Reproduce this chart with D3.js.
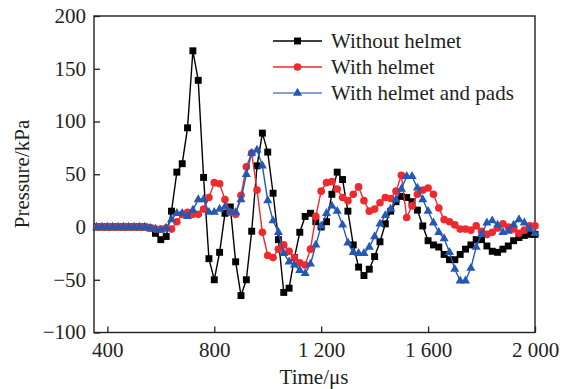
<!DOCTYPE html>
<html>
<head>
<meta charset="utf-8">
<script src="https://cdn.jsdelivr.net/npm/d3@7"></script>
<style>
  html, body { margin: 0; padding: 0; background: #fff; }
  svg text { font-family: "Liberation Serif", "Times New Roman", serif; fill: #231f20; }
</style>
</head>
<body>
<svg id="chart" width="564" height="389"></svg>
<script>
"use strict";

// sample times (µs), one reading every 20 µs
var times = d3.range(360, 2001, 20);

var withoutHelmet = [
    0, 0, 0, 0, 0, 0, 0, 0, 0, 0,
    -1, -6, -12, -9, 15, 52, 60, 94, 167, 139,
    47, -30, -50, -24, 13, 19, -33, -65, -50, -4,
    58, 89, 71, 32, -12, -62, -58, -29, -5, 10,
    13, 5, 0, 5, 31, 52, 45, 15, -17, -38,
    -46, -40, -28, -14, 3, 15, 24, 29, 28, 24,
    16, 1, -13, -17, -19, -26, -31, -31, -26, -21,
    -17, -12, -12, -18, -23, -24, -21, -18, -13, -10,
    -8, -7, -7
];

var withHelmet = [
    0, 0, 0, 0, 0, 0, 0, 0, 0, 0,
    -1, -2, -2, -1, -2, 5, 12, 14, 12, 12,
    17, 28, 42, 41, 26, 14, 12, 30, 57, 70,
    35, -5, -27, -29, -21, -17, -23, -29, -34, -36,
    -21, 10, 34, 42, 43, 36, 28, 25, 31, 38,
    25, 15, 17, 23, 28, 27, 34, 49, 9, 20,
    31, 35, 37, 31, 18, 7, 5, 2, -2, -2,
    -3, 1, -4, -7, -5, -1, 3, 0, -2, -6,
    -3, 1, 1
];

var withHelmetPads = [
    0, 0, 0, 0, 0, 0, 0, 0, 0, 0,
    -1, -2, -3, -1, 7, 13, 13, 10, 16, 26,
    26, 14, 14, 17, 19, 14, 14, 26, 50, 70,
    73, 58, 25, 6, -5, -25, -33, -36, -41, -44,
    -35, -17, 1, 13, 20, 15, 2, -15, -24, -25,
    -25, -19, -9, 3, 11, 17, 26, 36, 48, 48,
    37, 26, 15, 4, -5, -11, -24, -40, -51, -51,
    -39, -19, -7, 4, 6, 2, -5, -4, 2, 7,
    4, -2, -6
];

var seriesNames = ["Without helmet", "With helmet", "With helmet and pads"];
var xTicks = [400, 800, 1200, 1600, 2000];
var yTicks = [-100, -50, 0, 50, 100, 150, 200];


(function() {

    var svg = d3.select("#chart");
    var plot = { left: 94, right: 535, top: 16, bottom: 332.5 };
    var axisColor = "#231f20";

    var xScale = d3.scaleLinear().domain([350, 2000]).range([plot.left, plot.right]);
    var yScale = d3.scaleLinear().domain([-100, 200]).range([plot.bottom, plot.top]);

    var styles = [
        { color: "#000000", legendLine: "#000000", symbol: d3.symbolSquare, size: 48 },
        { color: "#ee2a2e", legendLine: "#ee2a2e", symbol: d3.symbolCircle, size: 46 },
        { color: "#2458b2", legendLine: "#5b80c6", symbol: d3.symbolTriangle, size: 36 }
    ];
    var allSeries = [withoutHelmet, withHelmet, withHelmetPads];

    // axes: ticks point inward, labels outside
    var xAxis = d3.axisBottom(xScale)
        .tickValues(xTicks)
        .tickSizeInner(-6).tickSizeOuter(0)
        .tickPadding(13)
        .tickFormat(function(d) { return d >= 1000 ? d3.format("d")(d).replace(/^(\d)(\d{3})$/, "$1 $2") : d; });

    var yAxis = d3.axisLeft(yScale)
        .tickValues(yTicks)
        .tickSizeInner(-6).tickSizeOuter(0)
        .tickPadding(8)
        .tickFormat(function(d) { return d < 0 ? "\u2212" + Math.abs(d) : d; });

    var gx = svg.append("g")
        .attr("transform", "translate(0," + plot.bottom + ")")
        .call(xAxis);
    var gy = svg.append("g")
        .attr("transform", "translate(" + plot.left + ",0)")
        .call(yAxis);

    [gx, gy].forEach(function(g) {
        g.select(".domain").remove();
        g.selectAll("line").attr("stroke", axisColor).attr("stroke-width", 1.3);
        g.selectAll("text").attr("font-size", "21px").attr("fill", axisColor)
            .style("font-family", "'Liberation Serif', 'Times New Roman', serif");
    });
    gx.selectAll("text").attr("dy", "0.71em").attr("y", 10);
    gy.selectAll("text").attr("dy", "0.3em");

    // frame
    svg.append("rect")
        .attr("x", plot.left).attr("y", plot.top)
        .attr("width", plot.right - plot.left)
        .attr("height", plot.bottom - plot.top)
        .attr("fill", "none")
        .attr("stroke", axisColor)
        .attr("stroke-width", 1.4);

    // series
    var line = d3.line()
        .x(function(d) { return xScale(d.t); })
        .y(function(d) { return yScale(d.v); });

    allSeries.forEach(function(values, i) {
        var pts = times.map(function(t, k) { return { t: t, v: values[k] }; });
        var g = svg.append("g").attr("class", "series-" + i);
        g.append("path")
            .datum(pts)
            .attr("d", line)
            .attr("fill", "none")
            .attr("stroke", styles[i].color)
            .attr("stroke-width", 1.4);
        g.selectAll("path.marker")
            .data(pts)
            .enter()
            .append("path")
              .attr("class", "marker")
              .attr("d", d3.symbol().type(styles[i].symbol).size(styles[i].size))
              .attr("fill", styles[i].color)
              .attr("transform", function(d) {
                  return "translate(" + xScale(d.t) + "," + yScale(d.v) + ")";
              });
    });

    // legend
    var legend = svg.append("g").attr("class", "legend");
    var legendRows = [41, 67, 93];
    seriesNames.forEach(function(name, i) {
        var row = legend.append("g").attr("transform", "translate(273," + legendRows[i] + ")");
        row.append("line")
            .attr("x1", 0).attr("x2", 49).attr("y1", 0).attr("y2", 0)
            .attr("stroke", styles[i].legendLine)
            .attr("stroke-width", 1.3);
        row.append("path")
            .attr("d", d3.symbol().type(styles[i].symbol).size(styles[i].size))
            .attr("fill", styles[i].color)
            .attr("transform", "translate(24.5,0)");
        row.append("text")
            .attr("x", 58).attr("y", 7)
            .attr("font-size", "21px")
            .text(name);
    });

    // axis titles
    svg.append("text")
        .attr("x", (plot.left + plot.right) / 2 - 0.5)
        .attr("y", 384)
        .attr("text-anchor", "middle")
        .attr("font-size", "21px")
        .text("Time/\u03bcs");

    svg.append("text")
        .attr("transform", "translate(29,174) rotate(-90)")
        .attr("text-anchor", "middle")
        .attr("font-size", "21px")
        .text("Pressure/kPa");

})();
</script>
</body>
</html>
